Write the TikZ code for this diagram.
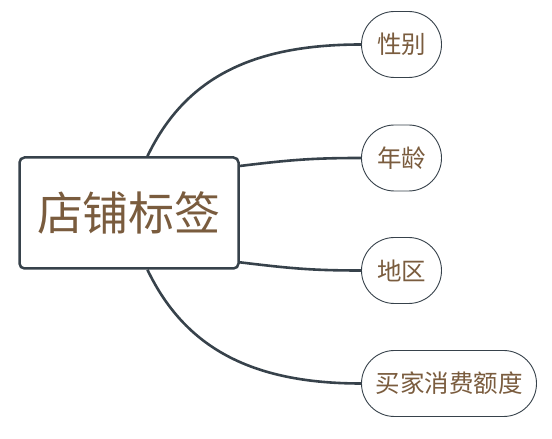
\documentclass[tikz,border=0pt]{standalone}
\usepackage{fontspec}
\newfontfamily\cjk{Noto Sans CJK SC}
\usepackage{tikz}
\definecolor{slate}{HTML}{37424B}
\definecolor{bark}{HTML}{7A5C3E}

\begin{document}
\begin{tikzpicture}[x=1pt, y=1pt,
    topic/.style={draw=slate, line width=2.5pt, rounded corners=5pt, fill=white,
        minimum width=219pt, minimum height=111pt, inner sep=0pt,
        text=bark, font=\cjk\fontsize{46}{46}\selectfont},
    subtopic/.style={draw=slate, line width=0.9pt, rounded corners=33pt, fill=white,
        minimum width=80pt, minimum height=66pt, inner sep=0pt,
        text=bark, font=\cjk\fontsize{24.5}{24.5}\selectfont},
    branch/.style={draw=slate, line width=2.6pt}]
    \useasboundingbox (0,0) rectangle (552,439);

    % Main topic
    \node[topic] (root) at (129,226) {\raisebox{-4pt}{店铺标签}};

    % Subtopics
    \node[subtopic] (gender) at (401.5,394.5) {\raisebox{-2pt}{性别}};
    \node[subtopic] (age) at (401.5,281) {\raisebox{-2pt}{年龄}};
    \node[subtopic] (region) at (401.5,168.5) {\raisebox{-2pt}{地区}};
    \node[subtopic, minimum width=175pt] (spend) at (449,55.5) {\raisebox{-2pt}{买家消费额度}};

    % Connectors
    \draw[branch] (root.72) .. controls +(37,77) and +(-111,0) .. (gender.west);
    \draw[branch] (root.23) .. controls +(50,6) and +(-50,0) .. (age.west);
    \draw[branch] (root.-24) .. controls +(50,-6) and +(-50,0) .. (region.west);
    \draw[branch] (root.-72) .. controls +(37,-77) and +(-111,0) .. (spend.west);
\end{tikzpicture}
\end{document}
